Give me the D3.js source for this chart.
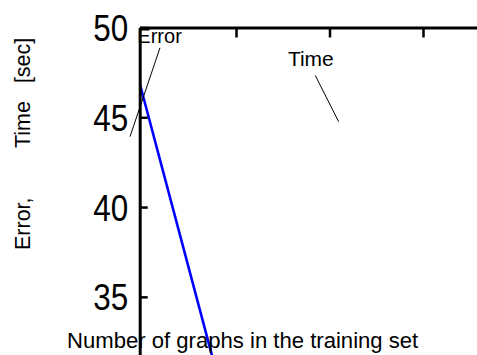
<!DOCTYPE html>
<html lang="en">
<head>
  <meta charset="UTF-8">
  <title>Error, Time vs training set size</title>
  <script src="https://d3js.org/d3.v7.min.js"></script>
  <style>
    body { margin: 0; background: #fff; }
    text { font-family: "Liberation Sans", Arial, sans-serif; fill: #000; }
  </style>
</head>
<body>
<script>
  // data
  var graphCounts = [50, 200]          // number of graphs in the training set
  var errorValues = [56.1, 26.7]       // error curve
  var xTicks = [200, 300, 400]
  var yTicks = [35, 40, 45, 50]
  // annotation labels: [text, x, y] and their leader lines [x1, y1, x2, y2]
  var labelNames = ['Error', 'Time']
  var labelSizes = [20, 21]
  var labelPos = [[94.5, 49.15], [255.5, 47.86]]
  var leaderLines = [[118.7, 48.87, 86.6, 43.92], [284.8, 47.33, 309.8, 44.75]]

  var width = 477
  var height = 355
  var svg = d3.select('body').append('svg').attr('width', width).attr('height', height)

  var xScale = d3.scaleLinear().domain([97, 460]).range([139.7, 479.1])
  var yScale = d3.scaleLinear().domain([31.75, 50]).range([355.2, 27.5])

  // clip to plot area
  svg.append('clipPath').attr('id', 'plot')
    .append('rect').attr('x', xScale(97)).attr('y', yScale(50))
    .attr('width', width - xScale(97)).attr('height', height - yScale(50))

  // error curve
  var line = d3.line().x(function (d) { return xScale(d[0]) }).y(function (d) { return yScale(d[1]) })
  svg.append('path')
    .datum(d3.zip(graphCounts, errorValues))
    .attr('clip-path', 'url(#plot)')
    .attr('d', line)
    .attr('fill', 'none').attr('stroke', '#0000ff').attr('stroke-width', 2.6)

  // top axis (ticks only)
  var xAxis = d3.axisTop(xScale).tickValues(xTicks).tickSize(-10).tickSizeOuter(0).tickFormat('')
  var gx = svg.append('g').attr('transform', 'translate(0,' + yScale(50) + ')').call(xAxis)
  gx.select('.domain').attr('stroke-width', 3)
  gx.selectAll('.tick line').attr('stroke-width', 2.5)

  // left axis
  var yAxis = d3.axisLeft(yScale).tickValues(yTicks).tickSize(-8).tickSizeOuter(0).tickPadding(11)
  var gy = svg.append('g').attr('transform', 'translate(' + xScale(97) + ',0)').call(yAxis)
  gy.select('.domain').attr('stroke-width', 3)
  gy.selectAll('.tick line').attr('stroke-width', 2.5)
  gy.selectAll('.tick text')
    .attr('font-size', 37).attr('font-family', '"Liberation Sans", Arial, sans-serif')
    .attr('x', -11.5 / 0.85).attr('dy', '0.35em')
    .attr('transform', 'scale(0.85,1)')

  // annotations
  svg.selectAll('.leader').data(leaderLines).enter().append('line')
    .attr('x1', function (d) { return xScale(d[0]) }).attr('y1', function (d) { return yScale(d[1]) })
    .attr('x2', function (d) { return xScale(d[2]) }).attr('y2', function (d) { return yScale(d[3]) })
    .attr('stroke', '#000').attr('stroke-width', 1)
  svg.selectAll('.lab').data(labelNames).enter().append('text')
    .attr('x', function (d, i) { return xScale(labelPos[i][0]) })
    .attr('y', function (d, i) { return yScale(labelPos[i][1]) })
    .attr('font-size', function (d, i) { return labelSizes[i] })
    .text(function (d) { return d })

  // axis titles
  svg.append('text').attr('x', 67).attr('y', 348).attr('font-size', 22.1)
    .text('Number of graphs in the training set')
  svg.append('text').attr('transform', 'translate(30,250) rotate(-90)').attr('font-size', 21.5)
    .text('Error,')
  svg.append('text').attr('transform', 'translate(30,148) rotate(-90)').attr('font-size', 21.5)
    .style('white-space', 'pre')
    .text('Time   [sec]')
</script>
</body>
</html>
